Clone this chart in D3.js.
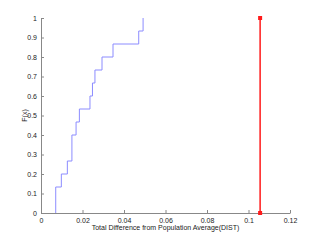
<!DOCTYPE html>
<html>
<head>
<meta charset="utf-8">
<script src="https://cdn.jsdelivr.net/npm/d3@7"></script>
<style>
  body { margin: 0; background: #fff; }
  .axis text { font-family: "Liberation Sans", Arial, sans-serif; font-size: 7px; fill: #222; }
  .axis path, .axis line { stroke: #888; }
</style>
</head>
<body>
<div class="svg-container"></div>
<script>
// empirical CDF sample points (DIST values, one per step of 1/15)
var distValues = [0.0071, 0.0071, 0.0098, 0.0127, 0.0149, 0.0149, 0.0169, 0.0185,
                  0.0236, 0.0248, 0.0260, 0.0294, 0.0347, 0.0471, 0.0492];
var popValue = [0.1056];
var popF = [0, 1];
var xTicks = [0, 0.02, 0.04, 0.06, 0.08, 0.1, 0.12];
var yTicks = [0, 0.1, 0.2, 0.3, 0.4, 0.5, 0.6, 0.7, 0.8, 0.9, 1];

var margin = {top: 18, right: 30, bottom: 27, left: 41},
    width = 320 - margin.left - margin.right,
    height = 240 - margin.top - margin.bottom;

var svg = d3.select(".svg-container").append("svg")
    .attr("width", 320)
    .attr("height", 240)
  .append("g")
    .attr("transform", "translate(" + margin.left + "," + margin.top + ")");

var xScale = d3.scaleLinear().domain([0, 0.12]).range([0, width]);
var yScale = d3.scaleLinear().domain([0, 1]).range([height, 0]);

// Axes (MATLAB style, ticks pointing inward)
var xaxis = d3.axisBottom(xScale)
    .tickValues(xTicks)
    .tickSizeInner(-3).tickSizeOuter(0).tickPadding(5)
    .tickFormat(function(d) { return d3.format("~g")(d); });
var yaxis = d3.axisLeft(yScale)
    .tickValues(yTicks)
    .tickSizeInner(-3).tickSizeOuter(0).tickPadding(4)
    .tickFormat(function(d) { return d3.format("~g")(d); });

svg.append("g")
    .attr("class", "axis")
    .attr("transform", "translate(0," + height + ")")
    .call(xaxis);

svg.append("g")
    .attr("class", "axis")
    .call(yaxis);

// Axis labels
svg.append("text")
    .attr("x", width / 2)
    .attr("y", height + 17)
    .attr("text-anchor", "middle")
    .style("font-family", "Liberation Sans, Arial, sans-serif")
    .style("font-size", "7px")
    .style("fill", "#222")
    .text("Total Difference from Population Average(DIST)");

svg.append("text")
    .attr("transform", "rotate(-90)")
    .attr("x", -(yScale(0.5)))
    .attr("y", -14)
    .attr("text-anchor", "middle")
    .style("font-family", "Liberation Sans, Arial, sans-serif")
    .style("font-size", "7px")
    .style("fill", "#222")
    .text("F(x)");

// ECDF stairs
var n = distValues.length;
var stairs = [{x: distValues[0], y: 0}];
distValues.forEach(function(v, i) {
    stairs.push({x: v, y: i / n});
    stairs.push({x: v, y: (i + 1) / n});
});

var line = d3.line()
    .x(function(d) { return xScale(d.x); })
    .y(function(d) { return yScale(d.y); });

svg.append("path")
    .datum(stairs)
    .attr("fill", "none")
    .attr("stroke", "#8c8cff")
    .attr("stroke-width", 1)
    .attr("d", line);

// Population reference line
var popData = popF.map(function(f) { return {x: popValue[0], y: f}; });

svg.append("path")
    .datum(popData)
    .attr("fill", "none")
    .attr("stroke", "#ff1a1a")
    .attr("stroke-width", 1.5)
    .attr("d", line);

svg.append("g")
    .selectAll("rect")
    .data(popData)
    .enter()
    .append("rect")
      .attr("x", function(d) { return xScale(d.x) - 2; })
      .attr("y", function(d) { return yScale(d.y) - 2; })
      .attr("width", 4)
      .attr("height", 4)
      .attr("fill", "#ff1a1a");
</script>
</body>
</html>
